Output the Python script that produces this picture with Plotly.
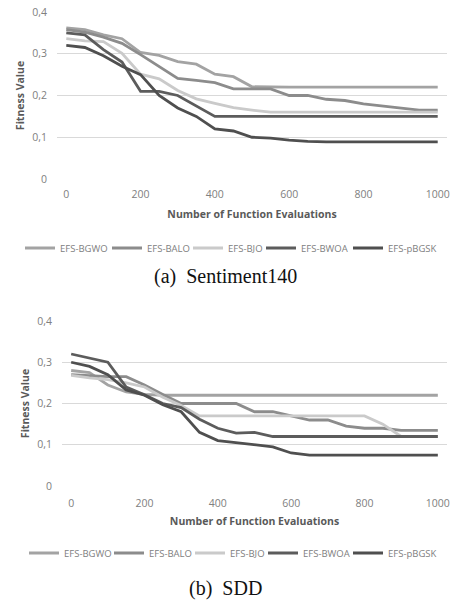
import plotly.graph_objects as go

# ---------------- data ----------------
nfe = [0, 50, 100, 150, 200, 250, 300, 350, 400, 450, 500,
       550, 600, 650, 700, 750, 800, 850, 900, 950, 1000]

series_names = ["EFS-BGWO", "EFS-BALO", "EFS-BJO", "EFS-BWOA", "EFS-pBGSK"]
series_colors = ["#a3a3a3", "#8c8c8c", "#cacaca", "#5c5c5c", "#4f4f4f"]

# (a) Sentiment140
s140_bgwo = [0.362, 0.358, 0.345, 0.336, 0.303, 0.296, 0.281, 0.275, 0.251, 0.245, 0.221,
             0.22, 0.22, 0.22, 0.22, 0.22, 0.22, 0.22, 0.22, 0.22, 0.22]
s140_balo = [0.358, 0.352, 0.34, 0.325, 0.298, 0.27, 0.241, 0.236, 0.231, 0.216, 0.216,
             0.216, 0.2, 0.2, 0.191, 0.188, 0.18, 0.175, 0.171, 0.165, 0.165]
s140_bjo = [0.336, 0.331, 0.329, 0.301, 0.251, 0.24, 0.212, 0.192, 0.181, 0.171, 0.165,
            0.16, 0.16, 0.16, 0.16, 0.16, 0.16, 0.16, 0.16, 0.16, 0.16]
s140_bwoa = [0.35, 0.345, 0.31, 0.28, 0.21, 0.21, 0.2, 0.175, 0.15, 0.15, 0.15,
             0.15, 0.15, 0.15, 0.15, 0.15, 0.15, 0.15, 0.15, 0.15, 0.15]
s140_pbgsk = [0.32, 0.315, 0.295, 0.27, 0.25, 0.2, 0.17, 0.15, 0.12, 0.115, 0.1,
              0.098, 0.093, 0.09, 0.089, 0.089, 0.09, 0.09, 0.09, 0.089, 0.089]

# (b) SDD
sdd_bgwo = [0.28, 0.275, 0.245, 0.228, 0.222, 0.22, 0.22, 0.22, 0.22, 0.22, 0.22,
            0.22, 0.22, 0.22, 0.22, 0.22, 0.22, 0.22, 0.22, 0.22, 0.22]
sdd_balo = [0.27, 0.267, 0.265, 0.265, 0.245, 0.222, 0.2, 0.2, 0.2, 0.2, 0.18,
            0.18, 0.17, 0.16, 0.16, 0.145, 0.14, 0.14, 0.135, 0.135, 0.135]
sdd_bjo = [0.268, 0.262, 0.258, 0.25, 0.24, 0.215, 0.195, 0.17, 0.17, 0.17, 0.17,
           0.17, 0.17, 0.17, 0.17, 0.17, 0.17, 0.15, 0.12, 0.12, 0.12]
sdd_bwoa = [0.32, 0.31, 0.3, 0.24, 0.221, 0.2, 0.19, 0.162, 0.14, 0.128, 0.13,
            0.12, 0.12, 0.12, 0.12, 0.12, 0.12, 0.12, 0.12, 0.12, 0.12]
sdd_pbgsk = [0.3, 0.29, 0.27, 0.233, 0.22, 0.197, 0.18, 0.13, 0.11, 0.105, 0.1,
             0.095, 0.08, 0.075, 0.075, 0.075, 0.075, 0.075, 0.075, 0.075, 0.075]

y_tickvals = [0, 0.1, 0.2, 0.3, 0.4]
y_ticktext = ["0", "0,1", "0,2", "0,3", "0,4"]
x_tickvals = [0, 200, 400, 600, 800, 1000]
x_ticktext = ["0", "200", "400", "600", "800", "1000"]

panels = [
    dict(data=[s140_bgwo, s140_balo, s140_bjo, s140_bwoa, s140_pbgsk],
         caption="(a)  Sentiment140"),
    dict(data=[sdd_bgwo, sdd_balo, sdd_bjo, sdd_bwoa, sdd_pbgsk],
         caption="(b)  SDD"),
]

# ---------------- layout geometry (pixels) ----------------
W, H = 451, 606
FONT = "Open Sans"
TICK_COLOR = "#808080"
TITLE_COLOR = "#595959"
GRID = "#d9d9d9"

geom = [
    dict(x0=57, x1=447, ytop=12, ybot=179, legy=248, capy=276, xstand=7, tstand=11,
         legx=[29, 116, 197, 270, 357]),
    dict(x0=62, x1=447, ytop=321, ybot=486, legy=553, capy=588, xstand=9, tstand=9,
         legx=[33, 118, 199, 272, 357]),
]

fig = go.Figure()
legend_count = 0
layout_updates = {}

for i, (p, g) in enumerate(zip(panels, geom)):
    xa = "x" if i == 0 else "x2"
    ya = "y" if i == 0 else "y2"
    for k, (name, color, vals) in enumerate(zip(series_names, series_colors, p["data"])):
        legend_count += 1
        lkey = "legend" if legend_count == 1 else f"legend{legend_count}"
        fig.add_trace(go.Scatter(
            x=nfe, y=vals, mode="lines", name=name,
            line=dict(color=color, width=2.8),
            xaxis=xa, yaxis=ya, legend=lkey,
        ))
        layout_updates[lkey] = dict(
            orientation="h", x=(g["legx"][k] - 9) / W, xanchor="left",
            y=1 - g["legy"] / H, yanchor="middle",
            font=dict(family=FONT, size=9.5, color=TICK_COLOR),
            itemwidth=30, bgcolor="rgba(0,0,0,0)", borderwidth=0,
        )
    axx = dict(
        domain=[g["x0"] / W, g["x1"] / W],
        range=[-25, 1025], tickvals=x_tickvals, ticktext=x_ticktext,
        showgrid=False, zeroline=False, showline=False,
        tickfont=dict(family=FONT, size=10.5, color=TICK_COLOR),
        ticks="", ticklabelstandoff=g["xstand"], automargin=False,
        title=dict(text="<b>Number of Function Evaluations</b>",
                   font=dict(family=FONT, size=10.5, color=TITLE_COLOR),
                   standoff=g["tstand"]),
        anchor=ya,
    )
    axy = dict(
        domain=[1 - g["ybot"] / H, 1 - g["ytop"] / H],
        range=[0, 0.4], tickvals=y_tickvals, ticktext=y_ticktext,
        showgrid=True, gridcolor=GRID, gridwidth=1,
        zeroline=False, showline=False,
        tickfont=dict(family=FONT, size=10.5, color=TICK_COLOR),
        ticks="", ticklabelstandoff=9, automargin=False,
        title=dict(text="<b>Fitness Value</b>",
                   font=dict(family=FONT, size=10.5, color=TITLE_COLOR), standoff=5),
        anchor=xa,
    )
    if i == 0:
        layout_updates["xaxis"] = axx
        layout_updates["yaxis"] = axy
    else:
        layout_updates["xaxis2"] = axx
        layout_updates["yaxis2"] = axy

    fig.add_annotation(
        text=p["caption"], x=0.5, xref="paper", xanchor="center",
        y=1 - g["capy"] / H, yref="paper", yanchor="middle",
        showarrow=False,
        font=dict(family="Liberation Serif", size=20, color="#111111"),
    )

fig.update_layout(**layout_updates)
fig.update_layout(
    width=W, height=H,
    margin=dict(l=0, r=0, t=0, b=0, autoexpand=False),
    paper_bgcolor="white", plot_bgcolor="white",
    showlegend=True,
)

fig.write_html(
    "out.html",
    config={"displayModeBar": False},
    post_script="document.body.style.margin='0';document.body.style.overflow='hidden';",
)
